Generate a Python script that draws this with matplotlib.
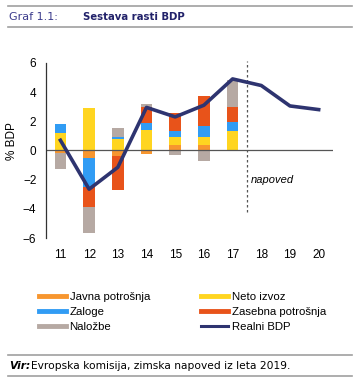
import matplotlib.pyplot as plt
import numpy as np
from matplotlib.lines import Line2D

plt.rcParams['font.family'] = ['Liberation Sans', 'DejaVu Sans']

years = [11, 12, 13, 14, 15, 16, 17, 18, 19, 20]
bar_years = [11, 12, 13, 14, 15, 16, 17]

# contributions to growth, p.p.
javna = [-0.15, -0.5, -0.4, -0.25, 0.4, 0.4, 0.0]
neto = [1.2, 2.9, 0.8, 1.4, 0.55, 0.5, 1.35]
zaloge = [0.6, -2.0, 0.15, 0.5, 0.4, 0.75, 0.6]
zasebna = [0.0, -1.35, -2.3, 1.05, 1.25, 2.1, 1.0]
nalozbe = [-1.1, -1.8, 0.6, 0.2, -0.3, -0.7, 1.9]
bdp = [0.7, -2.65, -1.15, 2.95, 2.3, 3.1, 4.9, 4.45, 3.05, 2.8]

series = [
    ('Javna potrošnja', javna, '#f7962f'),
    ('Neto izvoz', neto, '#ffd520'),
    ('Zaloge', zaloge, '#319cf4'),
    ('Zasebna potrošnja', zasebna, '#e8531a'),
    ('Naložbe', nalozbe, '#b6a9a3'),
]
line_col = '#2e3470'

fig = plt.figure(figsize=(3.6, 3.81), dpi=100)
ax = fig.add_axes([0.128, 0.375, 0.797, 0.46])

pos = np.zeros(len(bar_years))
neg = np.zeros(len(bar_years))
for name, vals, col in series:
    v = np.array(vals)
    bottom = np.where(v >= 0, pos, neg)
    ax.bar(bar_years, v, width=0.4, bottom=bottom, color=col, zorder=2)
    pos = pos + np.where(v >= 0, v, 0)
    neg = neg + np.where(v < 0, v, 0)

ax.plot(years, bdp, color=line_col, lw=2.6, zorder=3)
ax.axhline(0, color='#555555', lw=0.9, zorder=2.5)
ax.plot([17.5, 17.5], [-4.2, 6.1], color='#555555', lw=0.9, ls=(0, (2, 2)),
        clip_on=False, zorder=1)
ax.text(17.65, -2.0, 'napoved', fontsize=8, style='italic', va='center')

ax.set_xlim(10.5, 20.5)
ax.set_ylim(-6, 6)
ax.set_xticks(years)
ax.set_yticks(range(-6, 7, 2))
ax.tick_params(length=0, labelsize=8.5)
ax.tick_params(axis='x', pad=8)
ax.tick_params(axis='y', pad=7)
for s in ['top', 'right', 'bottom']:
    ax.spines[s].set_visible(False)
ax.spines['left'].set_color('#333333')
ax.spines['left'].set_linewidth(0.9)
ax.set_ylabel('% BDP', fontsize=8.5)
ax.yaxis.set_label_coords(-0.098, 0.554)

handles = [Line2D([], [], color=c, lw=3.5) for _, _, c in series]
handles.append(Line2D([], [], color=line_col, lw=2.2))
labels = [s[0] for s in series] + ['Realni BDP']
order = [0, 2, 4, 1, 3, 5]
fig.legend([handles[i] for i in order], [labels[i] for i in order],
           ncol=2, loc='upper left', bbox_to_anchor=(0.095, 0.245),
           frameon=False, fontsize=8.2, handlelength=2.4, handletextpad=0.3,
           columnspacing=4.5, labelspacing=0.42, borderaxespad=0)

# header and footer
for y in [1 - 6 / 381, 1 - 27 / 381, 1 - 355 / 381, 1 - 376 / 381]:
    fig.add_artist(Line2D([8 / 360, 352 / 360], [y, y], color='#a0a0a0', lw=1.2))
fig.text(9 / 360, 1 - 17 / 381, 'Graf 1.1:', fontsize=8, color='#3c3c8c',
         va='center', family='DejaVu Sans')
fig.text(83 / 360, 1 - 17 / 381, 'Sestava rasti BDP', fontsize=7.3, color='#22226a',
         va='center', weight='bold', family='DejaVu Sans')
fig.text(9 / 360, 1 - 366 / 381, 'Vir:', fontsize=7.7, weight='bold', style='italic',
         va='center', family='DejaVu Sans')
fig.text(31 / 360, 1 - 366 / 381, 'Evropska komisija, zimska napoved iz leta 2019.',
         fontsize=7.7, va='center', family='DejaVu Sans')

fig.savefig('out.png', dpi=100)
